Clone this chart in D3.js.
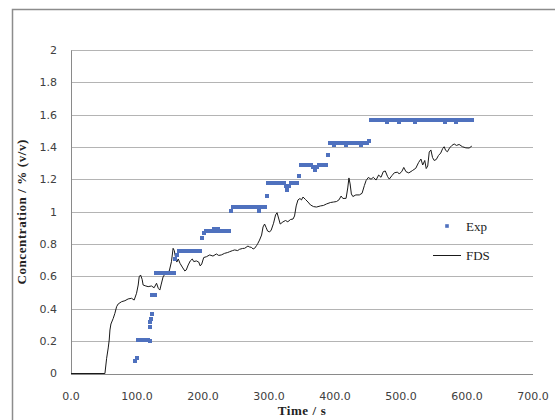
<!DOCTYPE html>
<html>
<head>
<meta charset="utf-8">
<script src="https://cdn.jsdelivr.net/npm/d3@7"></script>
<style>
  body { margin: 0; background: #fff; }
  svg { display: block; }
</style>
</head>
<body>
<div id="root"></div>
<script>
// FDS prediction (time in s, concentration in % v/v)
const fdsTime = [0, 51.4, 54.0, 56.4, 57.9, 59.0, 60.5, 64.0, 66.5, 69.1, 71.5, 76.7, 81.7, 86.6, 91.8, 95.7,
  99.3, 101.8, 103.3, 105.4, 107.8, 109.3, 113.4, 116.9, 122.0, 125.9, 129.6, 132.3, 134.6, 136.8, 139.5,
  142.9, 148.9, 152.2, 154.7, 156.5, 158.0, 160.3, 162.5, 165.2, 168.6, 172.4, 174.6, 177.6, 180.7, 183.7,
  186.0, 190.0, 193.5, 195.8, 198.1, 201.1, 205.2, 210.2, 215.1, 220.3, 223.8, 227.8, 232.8, 237.4, 240.4,
  244.9, 248.0, 252.5, 255.5, 260.0, 263.1, 268.1, 270.6, 273.2, 275.9, 278.2, 281.2, 283.2, 285.7, 288.8,
  291.0, 293.3, 295.6, 297.8, 300.9, 303.4, 306.9, 309.9, 312.2, 314.9, 317.0, 321.0, 325.0, 328.5, 332.6,
  336.4, 338.7, 341.2, 343.9, 346.9, 349.2, 351.5, 355.3, 359.1, 362.9, 367.4, 371.9, 378.0, 382.5, 387.0,
  393.1, 397.6, 402.2, 405.9, 409.3, 412.0, 416.8, 419.3, 421.1, 422.9, 424.8, 427.1, 431.6, 436.9, 441.0,
  444.5, 447.1, 450.5, 454.6, 458.1, 462.2, 466.1, 469.7, 473.2, 476.2, 479.7, 482.3, 486.4, 489.9, 494.8,
  497.4, 501.5, 504.2, 507.5, 511.8, 517.1, 522.4, 526.6, 530.2, 532.9, 536.0, 538.2, 540.5, 542.8, 545.3,
  547.8, 550.3, 553.4, 556.8, 560.2, 563.2, 565.4, 567.7, 570.4, 573.5, 577.1, 580.6, 584.0, 588.1, 593.1,
  598.3, 603.2, 607.3];
const fdsConc = [0, 0, 0.094, 0.158, 0.207, 0.269, 0.306, 0.341, 0.372, 0.413, 0.430, 0.444, 0.450, 0.461, 0.465, 0.454,
  0.496, 0.547, 0.598, 0.609, 0.582, 0.547, 0.541, 0.537, 0.541, 0.530, 0.558, 0.526, 0.516, 0.553, 0.597,
  0.619, 0.634, 0.691, 0.774, 0.760, 0.726, 0.689, 0.708, 0.681, 0.658, 0.634, 0.640, 0.671, 0.696, 0.708,
  0.692, 0.696, 0.689, 0.665, 0.677, 0.717, 0.722, 0.733, 0.726, 0.739, 0.730, 0.733, 0.743, 0.748, 0.753,
  0.760, 0.764, 0.760, 0.768, 0.773, 0.774, 0.788, 0.782, 0.780, 0.770, 0.774, 0.791, 0.805, 0.825, 0.856,
  0.906, 0.924, 0.903, 0.881, 0.875, 0.887, 0.929, 0.980, 0.994, 0.955, 0.924, 0.937, 0.946, 0.938, 0.952,
  0.955, 0.974, 1.036, 1.073, 1.082, 1.073, 1.091, 1.076, 1.060, 1.042, 1.032, 1.029, 1.036, 1.039, 1.048,
  1.057, 1.060, 1.063, 1.073, 1.097, 1.082, 1.083, 1.147, 1.209, 1.172, 1.110, 1.094, 1.104, 1.104, 1.114,
  1.162, 1.193, 1.212, 1.201, 1.213, 1.196, 1.227, 1.213, 1.248, 1.252, 1.217, 1.202, 1.224, 1.241, 1.245,
  1.233, 1.251, 1.274, 1.248, 1.240, 1.254, 1.269, 1.304, 1.326, 1.289, 1.317, 1.267, 1.283, 1.369, 1.382,
  1.335, 1.317, 1.323, 1.348, 1.363, 1.391, 1.402, 1.379, 1.371, 1.394, 1.410, 1.419, 1.410, 1.416, 1.402,
  1.395, 1.394, 1.406];

// Experimental measurements
const expTime = [97, 100,
  102, 105, 108, 111, 114, 117, 119,
  120, 120, 121, 122,
  123, 125, 127,
  129, 132, 135, 138, 141, 144, 147, 150, 153, 156,
  157, 160, 163, 166, 169, 172, 175, 178, 181, 184, 187, 190, 193, 196,
  198, 201, 204, 207, 210, 213, 216, 219, 222, 225, 228, 231, 234, 237, 240,
  243, 246, 249, 252, 255, 258, 261, 264, 267, 270, 273, 276, 279, 282, 285, 288, 291, 294,
  297,
  299, 302, 305, 308, 311, 314, 317, 320, 323, 325, 328, 331, 334, 337, 340, 343,
  346,
  348, 351, 354, 357, 360, 363, 366, 369, 372, 375, 378, 381, 384, 387,
  389,
  392, 395, 398, 401, 404, 407, 410, 413, 416, 419, 422, 425, 428, 431, 434, 437, 440, 443, 446, 449, 452,
  455, 458, 461, 464, 467, 470, 473, 476, 479, 482, 485, 488, 491, 494, 497, 500, 503, 506, 509, 512,
  515, 518, 521, 524, 527, 530, 533, 536, 539, 542, 545, 548, 551, 554, 557, 560, 563, 566, 569, 572,
  575, 578, 581, 584, 587, 590, 593, 596, 599, 602, 605, 608];
const expConc = [0.08, 0.095,
  0.21, 0.21, 0.21, 0.21, 0.21, 0.21, 0.20,
  0.29, 0.32, 0.335, 0.37,
  0.485, 0.485, 0.485,
  0.623, 0.623, 0.623, 0.623, 0.623, 0.623, 0.623, 0.623, 0.623, 0.623,
  0.71, 0.735, 0.757, 0.757, 0.757, 0.757, 0.757, 0.757, 0.757, 0.757, 0.757, 0.757, 0.757, 0.757,
  0.84, 0.87, 0.88, 0.88, 0.88, 0.88, 0.895, 0.88, 0.895, 0.88, 0.88, 0.88, 0.88, 0.88, 0.88,
  1.005, 1.03, 1.03, 1.03, 1.03, 1.03, 1.03, 1.03, 1.03, 1.03, 1.03, 1.03, 1.03, 1.03, 1.005, 1.03, 1.03, 1.03,
  1.10,
  1.177, 1.177, 1.177, 1.177, 1.177, 1.177, 1.177, 1.177, 1.177, 1.16, 1.134, 1.16, 1.177, 1.177, 1.177, 1.177,
  1.222,
  1.292, 1.292, 1.292, 1.292, 1.292, 1.292, 1.275, 1.258, 1.275, 1.292, 1.292, 1.292, 1.292, 1.292,
  1.353,
  1.428, 1.428, 1.41, 1.428, 1.428, 1.428, 1.428, 1.428, 1.41, 1.428, 1.428, 1.428, 1.428, 1.428, 1.428, 1.428, 1.41, 1.428, 1.428, 1.428, 1.44,
  1.57, 1.57, 1.57, 1.57, 1.57, 1.57, 1.57, 1.57, 1.553, 1.57, 1.57, 1.57, 1.57, 1.57, 1.556, 1.57, 1.57, 1.57, 1.57, 1.57,
  1.57, 1.57, 1.553, 1.57, 1.57, 1.57, 1.57, 1.57, 1.57, 1.57, 1.57, 1.57, 1.57, 1.57, 1.57, 1.57, 1.57, 1.553, 1.57, 1.57,
  1.57, 1.57, 1.57, 1.556, 1.57, 1.57, 1.57, 1.57, 1.57, 1.57, 1.57, 1.57];

const xTicks = [0, 100, 200, 300, 400, 500, 600, 700];
const yTicks = [0, 0.2, 0.4, 0.6, 0.8, 1, 1.2, 1.4, 1.6, 1.8, 2];

const width = 555;
const height = 420;
const plot = { left: 71, right: 533, top: 50, bottom: 373.5 };

const svg = d3.select("#root").append("svg")
  .attr("width", width)
  .attr("height", height);

// chart area frame (runs off the page on the right and bottom)
svg.append("rect")
  .attr("x", 12.5)
  .attr("y", 9.5)
  .attr("width", 600)
  .attr("height", 450)
  .attr("fill", "none")
  .attr("stroke", "#8c8c8c")
  .attr("stroke-width", 1.5);

const x = d3.scaleLinear().domain([0, 700]).range([plot.left, plot.right]);
const y = d3.scaleLinear().domain([0, 2]).range([plot.bottom, plot.top]);

// horizontal gridlines
svg.append("g")
  .selectAll("line")
  .data(yTicks)
  .join("line")
  .attr("x1", plot.left)
  .attr("x2", plot.right)
  .attr("y1", d => Math.round(y(d)) + 0.5)
  .attr("y2", d => Math.round(y(d)) + 0.5)
  .attr("stroke", d => d === 0 ? "#8a8a8a" : "#b4b4b4")
  .attr("stroke-width", 1);

// value axis line
svg.append("line")
  .attr("x1", plot.left + 0.5)
  .attr("x2", plot.left + 0.5)
  .attr("y1", Math.round(y(2)) + 0.5)
  .attr("y2", Math.round(y(0)) + 0.5)
  .attr("stroke", "#8a8a8a");

const tickFont = "'DejaVu Sans', sans-serif";

svg.append("g")
  .selectAll("text")
  .data(yTicks)
  .join("text")
  .attr("x", 57)
  .attr("y", d => y(d))
  .attr("dy", "0.36em")
  .attr("text-anchor", "end")
  .attr("font-family", tickFont)
  .attr("font-size", 11)
  .attr("fill", "#404040")
  .text(d => d3.format("~g")(d));

svg.append("g")
  .selectAll("text")
  .data(xTicks)
  .join("text")
  .attr("x", d => x(d))
  .attr("y", 400)
  .attr("text-anchor", "middle")
  .attr("font-family", tickFont)
  .attr("font-size", 11)
  .attr("fill", "#404040")
  .text(d => d3.format(".1f")(d));

// axis titles
svg.append("text")
  .attr("x", (plot.left + plot.right) / 2)
  .attr("y", 415)
  .attr("text-anchor", "middle")
  .attr("font-family", "'Liberation Serif', serif")
  .attr("font-weight", "bold")
  .attr("font-size", 13)
  .attr("letter-spacing", 0.6)
  .attr("fill", "#222")
  .text("Time / s");

svg.append("text")
  .attr("transform", `translate(26, ${(plot.top + plot.bottom) / 2}) rotate(-90)`)
  .attr("text-anchor", "middle")
  .attr("font-family", "'Liberation Serif', serif")
  .attr("font-weight", "bold")
  .attr("font-size", 13)
  .attr("letter-spacing", 0.6)
  .attr("fill", "#222")
  .text("Concentration  /  %  (v/v)");

// FDS line
const fdsData = fdsTime.map((t, i) => ({ t, c: fdsConc[i] }));
svg.append("path")
  .datum(fdsData)
  .attr("fill", "none")
  .attr("stroke", "#1a1a1a")
  .attr("stroke-width", 1)
  .attr("d", d3.line().x(d => x(d.t)).y(d => y(d.c)));

// Exp markers
const blue = "#4f71be";
const mark = 4;
const expData = expTime.map((t, i) => ({ t, c: expConc[i] }));
svg.append("g")
  .attr("shape-rendering", "crispEdges")
  .selectAll("rect")
  .data(expData)
  .join("rect")
  .attr("x", d => x(d.t) - mark / 2)
  .attr("y", d => y(d.c) - mark / 2)
  .attr("width", mark)
  .attr("height", mark)
  .attr("fill", blue);

// legend
const legend = svg.append("g").attr("font-family", "'Liberation Serif', serif").attr("font-size", 13).attr("fill", "#222");
legend.append("rect")
  .attr("x", 447 - 1.8)
  .attr("y", 226 - 1.8)
  .attr("width", 3.6)
  .attr("height", 3.6)
  .attr("fill", blue);
legend.append("text").attr("x", 466).attr("y", 231).text("Exp");
legend.append("line")
  .attr("x1", 433).attr("x2", 461)
  .attr("y1", 255.5).attr("y2", 255.5)
  .attr("stroke", "#1a1a1a");
legend.append("text").attr("x", 466).attr("y", 260).text("FDS");
</script>
</body>
</html>
